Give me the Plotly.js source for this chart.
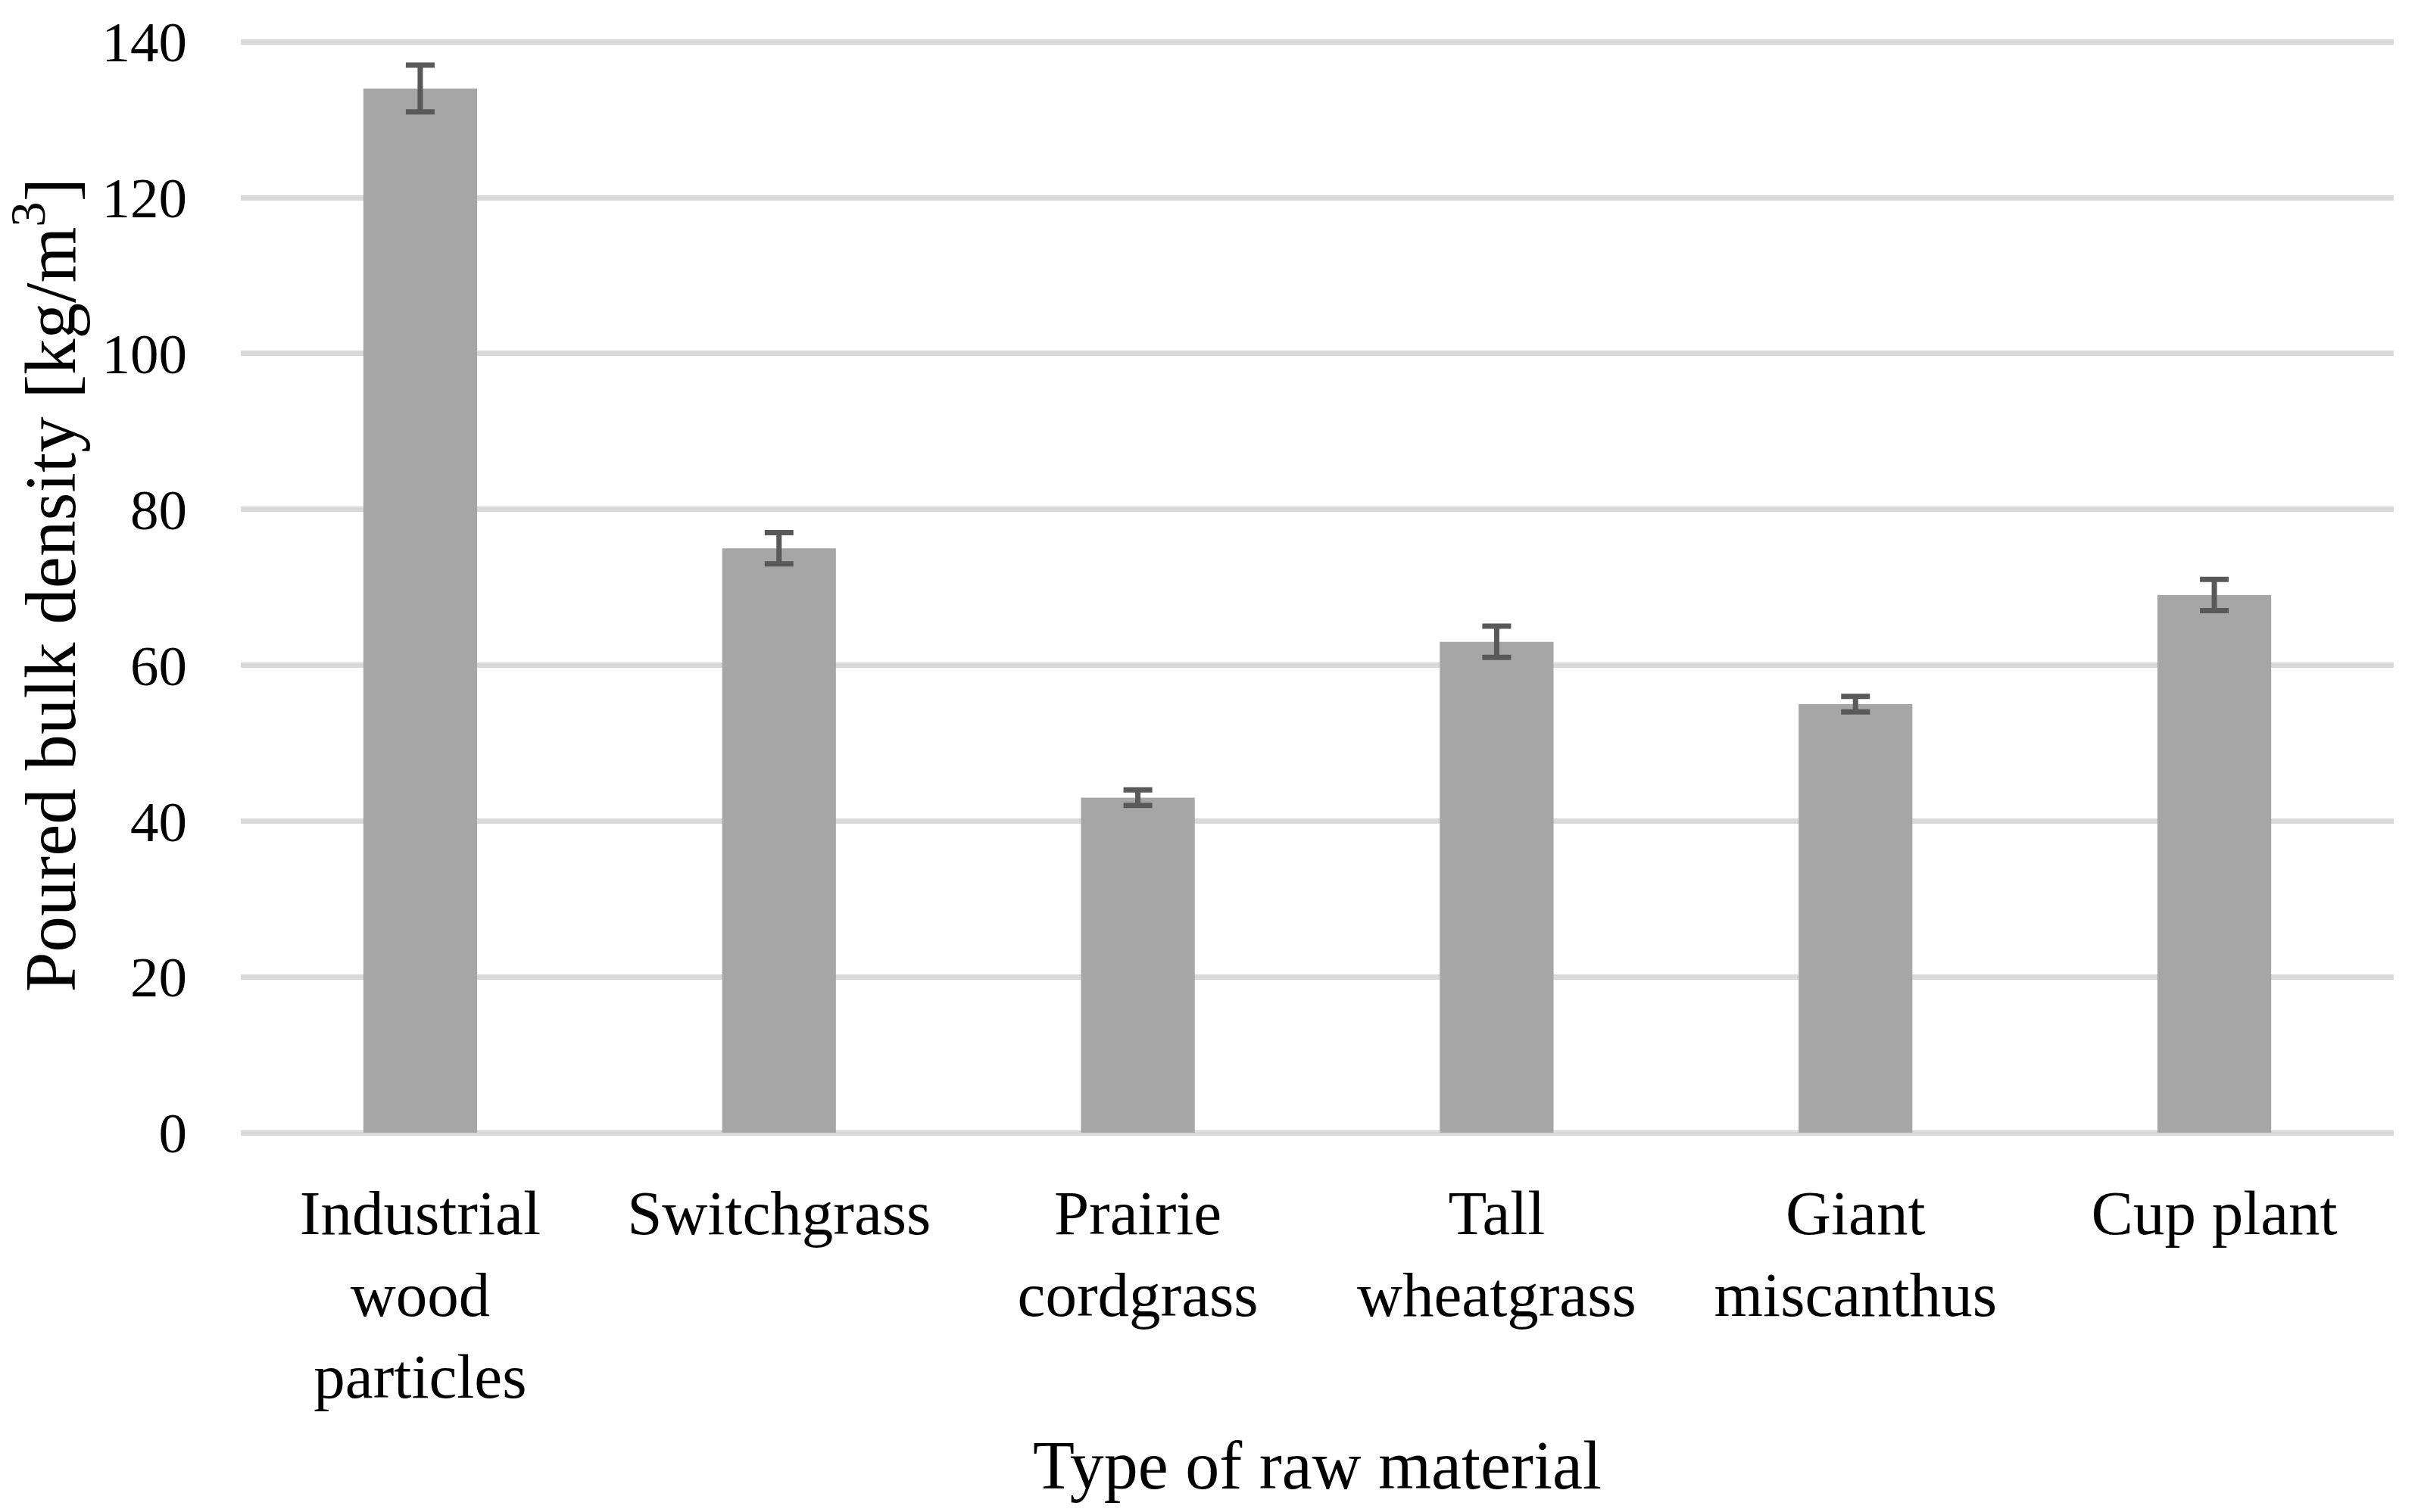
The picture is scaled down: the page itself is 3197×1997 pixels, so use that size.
<!DOCTYPE html>
<html>
<head>
<meta charset="utf-8">
<script src="https://cdn.plot.ly/plotly-3.0.1.min.js"></script>
<style>
  html, body { margin: 0; padding: 0; background: #ffffff; }
  #chart { width: 3197px; height: 1997px; }
</style>
</head>
<body>
<div id="chart"></div>
<script>
const categories = [
  "Industrial<br>wood<br>particles",
  "Switchgrass",
  "Prairie<br>cordgrass",
  "Tall<br>wheatgrass",
  "Giant<br>miscanthus",
  "Cup plant"
];
const density = [134, 75, 43, 63, 55, 69];
const densityError = [3, 2, 1, 2, 1, 2];
const yTickValues = [0, 20, 40, 60, 80, 100, 120, 140];
const xTitle = "Type of raw material";
const yTitle = "Poured bulk density [kg/m<sup>3</sup>]";

const FONT = "'Liberation Serif', 'Times New Roman', serif";

const trace = {
  type: "bar",
  x: categories,
  y: density,
  marker: { color: "#a6a6a6" },
  error_y: {
    type: "data",
    array: densityError,
    visible: true,
    color: "#595959",
    thickness: 7,
    width: 19
  },
  hoverinfo: "skip"
};

const layout = {
  width: 3197,
  height: 1997,
  paper_bgcolor: "#ffffff",
  plot_bgcolor: "#ffffff",
  showlegend: false,
  bargap: 0.683,
  margin: { l: 318, r: 36, t: 49, b: 501, pad: 0 },
  font: { family: FONT, color: "#000000" },
  xaxis: {
    type: "category",
    showgrid: false,
    showline: false,
    zeroline: false,
    ticks: "",
    ticklabelstandoff: 50,
    tickfont: { family: FONT, size: 83, color: "#000000" },
    automargin: false,
    title: {
      text: xTitle,
      font: { family: FONT, size: 90, color: "#000000" },
      standoff: 40
    }
  },
  yaxis: {
    range: [0, 140.6],
    tickvals: yTickValues,
    ticktext: yTickValues.map(String),
    showgrid: true,
    gridcolor: "#d9d9d9",
    gridwidth: 7,
    zeroline: true,
    zerolinecolor: "#d9d9d9",
    zerolinewidth: 7,
    showline: false,
    ticks: "",
    ticklabelstandoff: 70,
    tickfont: { family: FONT, size: 75, color: "#000000" },
    automargin: false,
    title: {
      text: yTitle,
      font: { family: FONT, size: 95, color: "#000000" },
      standoff: 36
    }
  }
};

Plotly.newPlot("chart", [trace], layout, { staticPlot: true, displayModeBar: false });
</script>
</body>
</html>
